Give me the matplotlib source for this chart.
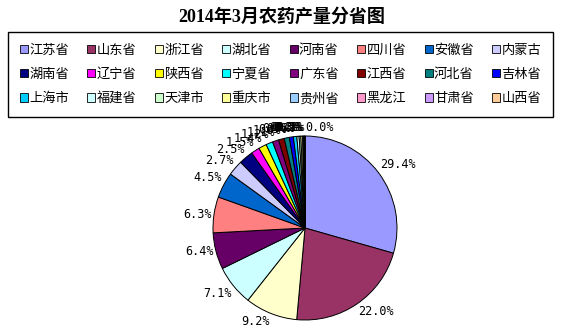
import numpy as np
import matplotlib
matplotlib.use('Agg')
import matplotlib.pyplot as plt

plt.rcParams['font.family'] = ['Noto Sans CJK SC', 'DejaVu Sans']

# provinces and their share (%) of pesticide output, March 2014
provinces = ['江苏省', '山东省', '浙江省', '湖北省', '河南省', '四川省', '安徽省', '内蒙古',
             '湖南省', '辽宁省', '陕西省', '宁夏省', '广东省', '江西省', '河北省', '吉林省',
             '上海市', '福建省', '天津市', '重庆市', '贵州省', '黑龙江', '甘肃省', '山西省']
shares = [29.4, 22.0, 9.2, 7.1, 6.4, 6.3, 4.5, 2.7,
          2.5, 1.5, 1.4, 1.2, 1.1, 1.0, 0.9, 0.7,
          0.6, 0.4, 0.3, 0.3, 0.2, 0.1, 0.1, 0.02]
colors = ['#9999FF', '#993366', '#FFFFCC', '#CCFFFF', '#660066', '#FF8080', '#0066CC', '#CCCCFF',
          '#000080', '#FF00FF', '#FFFF00', '#00FFFF', '#800080', '#800000', '#008080', '#0000FF',
          '#00CCFF', '#CCFFFF', '#CCFFCC', '#FFFF99', '#99CCFF', '#FF99CC', '#CC99FF', '#FFCC99']

W, H = 563, 334
fig = plt.figure(figsize=(W / 100, H / 100), dpi=100)
fig.patch.set_facecolor('white')

# title
fig.text(0.5, 1 - 17 / H, '2014年3月农药产量分省图', ha='center', va='center',
         fontsize=13, fontweight='bold', family=['Liberation Serif', 'Noto Sans CJK SC'])

# pie, centre (305, 228) px, radius 92 px
cx, cy, r = 305, 228, 92
ax = fig.add_axes([(cx - r) / W, (H - cy - r) / H, 2 * r / W, 2 * r / H])
wedges, _ = ax.pie(shares, colors=colors, startangle=90, counterclock=False,
                   wedgeprops=dict(edgecolor='black', linewidth=0.7))
ax.set_xlim(-1, 1)
ax.set_ylim(-1, 1)
ax.set_aspect('equal')
ax.axis('off')

# percentage labels just outside the rim
for w, v in zip(wedges, shares):
    ang = np.deg2rad((w.theta1 + w.theta2) / 2)
    c, s = np.cos(ang), np.sin(ang)
    ha = 'left' if c > -0.003 else 'right'
    va = 'bottom' if s > 0.3 else ('top' if s < -0.3 else 'center')
    ax.text(1.02 * c, 1.02 * s, '%.1f%%' % v, ha=ha, va=va,
            fontsize=8.5, family='DejaVu Sans Mono', clip_on=False)

# legend box: 3 rows x 8 columns, filled row by row
nrow, ncol = 3, 8
order = [i * ncol + j for j in range(ncol) for i in range(nrow)]
leg = fig.legend([wedges[k] for k in order], [provinces[k] for k in order], ncol=ncol,
                 loc='lower left', bbox_to_anchor=(8 / W, 1 - 117 / H, 545 / W, 84 / H),
                 mode='expand', fontsize=9.5, handlelength=0.6, handleheight=0.6,
                 handletextpad=0.1, columnspacing=0.5, labelspacing=0.85, borderaxespad=0,
                 borderpad=0.9, fancybox=False, edgecolor='black', framealpha=1)
leg.get_frame().set_linewidth(1.0)
for h in leg.legend_handles:
    h.set_linewidth(0.6)

fig.savefig('out.png', dpi=100, facecolor='white')
